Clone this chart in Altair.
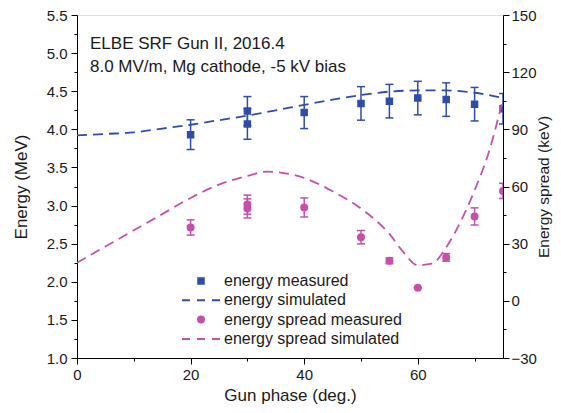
import altair as alt
import pandas as pd

# ---------------- data ----------------
series_names = ["energy measured", "energy simulated",
                "energy spread measured", "energy spread simulated"]

# measured energy (MeV)
e_phase = [20, 30, 30, 40, 50, 55, 60, 65, 70, 75]
e_val = [3.93, 4.24, 4.07, 4.22, 4.34, 4.37, 4.41, 4.39, 4.33, 4.27]
e_err = [0.195, 0.19, 0.20, 0.21, 0.22, 0.22, 0.22, 0.22, 0.22, 0.20]

# simulated energy (MeV)
es_phase = [0, 5, 10, 15, 20, 25, 30, 35, 40, 45, 50, 55, 60, 65, 70, 75]
es_val = [3.92, 3.94, 3.96, 4.01, 4.06, 4.12, 4.18, 4.25, 4.32, 4.39,
          4.45, 4.495, 4.51, 4.51, 4.48, 4.41]

# measured energy spread (keV)
s_phase = [20, 30, 30, 40, 50, 55, 60, 65, 70, 75]
s_val = [38.5, 50.5, 48.5, 49, 33.4, 21, 6.9, 22.8, 44.3, 57.7]
s_err = [4, 5, 5, 5, 3.5, 1.5, 0, 2, 4.5, 4]

# simulated energy spread (keV)
ss_phase = [0, 5, 10, 15, 20, 25, 30, 33.5, 40, 45, 50, 55, 57.5, 60,
            62.5, 65, 67.5, 70, 72.5, 75]
ss_val = [20, 28.5, 37, 45.5, 54, 61, 65.5, 67.8, 64.5, 57.5, 48.4, 35.1,
          25.4, 18.7, 19.5, 28.1, 41.3, 58, 78, 106]

x_ticks = [0, 10, 20, 30, 40, 50, 60, 70]
ey_ticks = [1 + 0.25 * i for i in range(19)]
sy_ticks = list(range(-30, 151, 15))

# ---------------- styles ----------------
BLUE = "#2f4da8"
PINK = "#c650a8"
FONT = "Liberation Sans"
TXT = "#1a1a1a"

e_df = pd.DataFrame({"phase": e_phase, "val": e_val, "err": e_err,
                     "series": series_names[0]})
es_df = pd.DataFrame({"phase": es_phase, "val": es_val})
s_df = pd.DataFrame({"phase": s_phase, "val": s_val, "err": s_err,
                     "series": series_names[2]})
ss_df = pd.DataFrame({"phase": ss_phase, "val": ss_val})

x_scale = alt.Scale(domain=[0, 75], nice=False, zero=False)
ey_scale = alt.Scale(domain=[1, 5.5], nice=False, zero=False)
sy_scale = alt.Scale(domain=[-30, 150], nice=False, zero=False)

common_axis = dict(domainColor="black", tickColor="black", grid=False,
                   labelFont=FONT, labelFontSize=15, labelColor=TXT,
                   titleFont=FONT, titleFontWeight="normal",
                   titleColor=TXT, labelOverlap=False, labelFlush=False,
                   domainWidth=1, tickWidth=1)

x_axis = alt.Axis(values=x_ticks, title="Gun phase (deg.)",
                  labelExpr="datum.value % 20 === 0 ? datum.label : ''",
                  tickSize={"condition": {"test": "datum.value % 20 === 0", "value": 6}, "value": 3},
                  labelPadding=3, titlePadding=5, titleFontSize=17, **common_axis)
ey_axis = alt.Axis(values=ey_ticks, title="Energy (MeV)",
                   labelExpr="datum.value % 0.5 === 0 ? format(datum.value, '.1f') : ''",
                   tickSize={"condition": {"test": "datum.value % 0.5 === 0", "value": 6}, "value": 3},
                   labelPadding=4, titlePadding=16, titleFontSize=17, **common_axis)
sy_axis = alt.Axis(values=sy_ticks, title="Energy spread (keV)", orient="right",
                   labelExpr="datum.value % 30 === 0 ? datum.label : ''",
                   tickSize={"condition": {"test": "datum.value % 30 === 0", "value": 6}, "value": 3},
                   labelPadding=2, titlePadding=0, titleAngle=270,
                   titleBaseline="top", titleFontSize=15.5, **common_axis)

X = alt.X("phase:Q", scale=x_scale, axis=x_axis)

# legend built from shared fill / stroke / shape scales
shape_range = [
    "M-0.55,-0.55H0.55V0.55H-0.55Z",
    "M-3.8,0H-2.2M-0.8,0H0.8M2.2,0H3.8",
    "M0.6,0A0.6,0.6,0,1,1,-0.6,0A0.6,0.6,0,1,1,0.6,0Z",
    "M-3.8,0H-2.2M-0.8,0H0.8M2.2,0H3.8",
]
color_range = [BLUE, BLUE, PINK, PINK]
leg = alt.Legend(title=None, orient="none", legendX=116, legendY=258,
                 symbolSize=100, symbolStrokeWidth=2, labelFont=FONT,
                 labelFontSize=16, labelColor=TXT, labelOffset=15,
                 rowPadding=3.3, padding=0, labelLimit=400)
fill_enc = alt.Fill("series:N", scale=alt.Scale(domain=series_names, range=color_range), legend=leg)
stroke_enc = alt.Stroke("series:N", scale=alt.Scale(domain=series_names, range=color_range), legend=leg)
shape_enc = alt.Shape("series:N", scale=alt.Scale(domain=series_names, range=shape_range), legend=leg)


def measured_layer(df, color, yscale, yaxis):
    base = alt.Chart(df).transform_calculate(
        lo="datum.val - datum.err", hi="datum.val + datum.err")
    rule = base.mark_rule(color=color, strokeWidth=1.5, clip=True).encode(
        x=X, y=alt.Y("lo:Q", scale=yscale, axis=yaxis), y2="hi:Q")
    cap_hi = base.mark_tick(color=color, orient="horizontal", size=8,
                            thickness=1.5, opacity=1, clip=True).encode(
        x=X, y=alt.Y("hi:Q", scale=yscale, axis=yaxis))
    cap_lo = base.mark_tick(color=color, orient="horizontal", size=8,
                            thickness=1.5, opacity=1, clip=True).encode(
        x=X, y=alt.Y("lo:Q", scale=yscale, axis=yaxis))
    pts = base.mark_point(filled=True, size=100, strokeWidth=2, opacity=1,
                          clip=True).encode(
        x=X, y=alt.Y("val:Q", scale=yscale, axis=yaxis),
        fill=fill_enc, stroke=stroke_enc, shape=shape_enc)
    return [rule, cap_hi, cap_lo, pts]


def sim_layer(df, color, yscale, yaxis):
    return alt.Chart(df).mark_line(color=color, strokeWidth=1.8,
                                   strokeDash=[10, 6], interpolate="monotone",
                                   clip=True).encode(
        x=X, y=alt.Y("val:Q", scale=yscale, axis=yaxis))


energy = alt.layer(sim_layer(es_df, BLUE, ey_scale, ey_axis),
                   *measured_layer(e_df, BLUE, ey_scale, ey_axis))
spread = alt.layer(sim_layer(ss_df, PINK, sy_scale, sy_axis),
                   *measured_layer(s_df, PINK, sy_scale, sy_axis))

title = alt.TitleParams(
    text=["ELBE SRF Gun II, 2016.4", "8.0 MV/m, Mg cathode, -5 kV bias"],
    anchor="start", frame="group", orient="top", offset=0, dx=13, dy=81,
    baseline="alphabetic", font=FONT, fontSize=17, fontWeight="normal",
    color=TXT, lineHeight=22.6)

chart = alt.layer(energy, spread).resolve_scale(y="independent").properties(
    width=426, height=343, title=title,
    padding={"left": 69, "top": 7, "right": 50, "bottom": 47},
    autosize=alt.AutoSizeParams(type="none"),
).configure_view(stroke="black", strokeWidth=1).configure(background="white")

chart.save("out.html", embed_options={"renderer": "svg", "actions": False})
